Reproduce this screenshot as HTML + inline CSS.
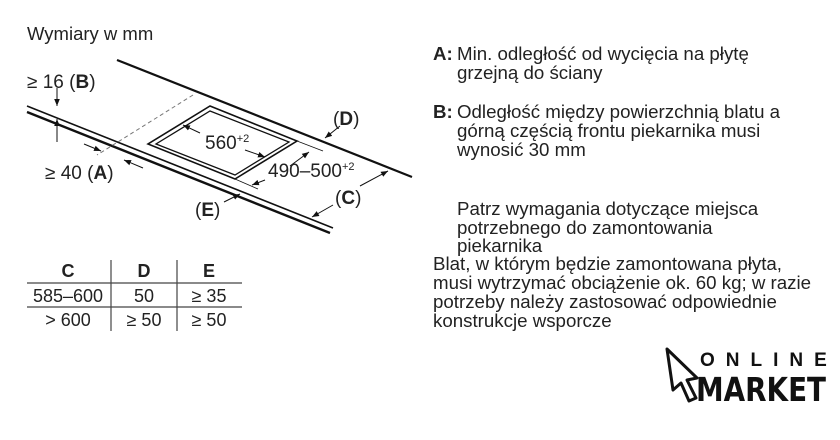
<!DOCTYPE html>
<html><head><meta charset="utf-8"><style>
html,body{margin:0;padding:0;background:#fff;}
svg{display:block;font-family:"Liberation Sans",Arial,sans-serif;}
</style></head><body>
<svg width="840" height="440" viewBox="0 0 840 440" xmlns="http://www.w3.org/2000/svg">
<defs>
<marker id="ar" viewBox="0 0 10 10" refX="10" refY="5" markerWidth="7" markerHeight="7" orient="auto-start-reverse"><path d="M0,1 L10,5 L0,9 z" fill="#111"/></marker>
</defs>
<rect width="840" height="440" fill="#fff"/>
<text x="27" y="40" font-size="18.5" fill="#222">Wymiary w mm</text>

<line x1="117" y1="60" x2="412" y2="177" stroke="#111" stroke-width="2.2"/>
<line x1="27" y1="106" x2="333" y2="228" stroke="#111" stroke-width="1.6"/>
<line x1="27" y1="112" x2="330" y2="233" stroke="#111" stroke-width="2.4"/>
<line x1="193" y1="95" x2="97" y2="155" stroke="#777" stroke-width="1" stroke-dasharray="4,3"/>
<polygon points="210,106 297,141 235,179 148,144" fill="none" stroke="#111" stroke-width="1.6"/>
<polygon points="210,111 289,142 235,175 156,144" fill="none" stroke="#111" stroke-width="1.3"/>

<line x1="57" y1="88" x2="57" y2="106" stroke="#111" stroke-width="1" marker-end="url(#ar)"/>
<line x1="57" y1="142" x2="57" y2="119" stroke="#111" stroke-width="1" marker-end="url(#ar)"/>
<line x1="84" y1="144" x2="101" y2="151" stroke="#111" stroke-width="1" marker-end="url(#ar)"/>
<line x1="143" y1="168" x2="124" y2="160" stroke="#111" stroke-width="1" marker-end="url(#ar)"/>
<line x1="200" y1="133" x2="183" y2="125" stroke="#111" stroke-width="1" marker-end="url(#ar)"/>
<line x1="245" y1="150" x2="265" y2="157" stroke="#111" stroke-width="1" marker-end="url(#ar)"/>
<line x1="297" y1="141" x2="323" y2="151" stroke="#111" stroke-width="0.8"/>
<line x1="235" y1="179" x2="258" y2="189" stroke="#111" stroke-width="0.8"/>
<line x1="290" y1="166" x2="309" y2="152" stroke="#111" stroke-width="1" marker-end="url(#ar)"/>
<line x1="265" y1="180" x2="252" y2="185" stroke="#111" stroke-width="1" marker-end="url(#ar)"/>
<line x1="340" y1="126" x2="325" y2="138" stroke="#111" stroke-width="1" marker-end="url(#ar)"/>
<line x1="360" y1="186" x2="388" y2="171" stroke="#111" stroke-width="1" marker-end="url(#ar)"/>
<line x1="333" y1="205" x2="312" y2="217" stroke="#111" stroke-width="1" marker-end="url(#ar)"/>
<line x1="224" y1="202" x2="240" y2="194" stroke="#111" stroke-width="1" marker-end="url(#ar)"/>

<g font-size="19" fill="#222">
<text x="27" y="88">≥ 16 (<tspan font-weight="bold">B</tspan>)</text>
<text x="45" y="179">≥ 40 (<tspan font-weight="bold">A</tspan>)</text>
<text x="195" y="216">(<tspan font-weight="bold">E</tspan>)</text>
<text x="335" y="204">(<tspan font-weight="bold">C</tspan>)</text>
<text x="333" y="125">(<tspan font-weight="bold">D</tspan>)</text>
<text x="205" y="149">560<tspan font-size="11" dy="-7">+2</tspan></text>
<text x="268" y="177">490–500<tspan font-size="11" dy="-7">+2</tspan></text>
</g>

<g stroke="#444" stroke-width="1.2">
<line x1="27" y1="283" x2="242" y2="283"/>
<line x1="27" y1="307" x2="242" y2="307"/>
<line x1="111" y1="260" x2="111" y2="331"/>
<line x1="177" y1="260" x2="177" y2="331"/>
</g>
<g font-size="18" fill="#222" text-anchor="middle">
<text x="68" y="277" font-weight="bold">C</text>
<text x="144" y="277" font-weight="bold">D</text>
<text x="209" y="277" font-weight="bold">E</text>
<text x="68" y="302">585–600</text>
<text x="144" y="302">50</text>
<text x="209" y="302">≥ 35</text>
<text x="68" y="326">&gt; 600</text>
<text x="144" y="326">≥ 50</text>
<text x="209" y="326">≥ 50</text>
</g>

<g font-size="18.7" fill="#222">
<text x="433" y="60" font-weight="bold">A:</text>
<text x="457" y="60">Min. odległość od wycięcia na płytę</text>
<text x="457" y="79">grzejną do ściany</text>
<text x="433" y="118" font-weight="bold">B:</text>
<text x="457" y="118">Odległość między powierzchnią blatu a</text>
<text x="457" y="137">górną częścią frontu piekarnika musi</text>
<text x="457" y="156">wynosić 30 mm</text>
<text x="457" y="215">Patrz wymagania dotyczące miejsca</text>
<text x="457" y="234">potrzebnego do zamontowania</text>
<text x="457" y="252">piekarnika</text>
<text x="433" y="270">Blat, w którym będzie zamontowana płyta,</text>
<text x="433" y="289">musi wytrzymać obciążenie ok. 60 kg; w razie</text>
<text x="433" y="308">potrzeby należy zastosować odpowiednie</text>
<text x="433" y="327">konstrukcje wsporcze</text>
</g>

<path d="M667,349 L697,378 L687,380 L696,398 L689,401 L681,383 L673,390 Z" fill="#fff" stroke="#111" stroke-width="3" stroke-linejoin="round"/>
<g font-weight="bold" fill="#111">
<text x="700" y="366" font-size="19" letter-spacing="11">ONLINE</text>
<text x="696" y="401" font-size="33" textLength="130" lengthAdjust="spacingAndGlyphs" style="font-family:'DejaVu Sans','Liberation Sans',sans-serif">MARKET</text>
</g>
</svg>
</body></html>
